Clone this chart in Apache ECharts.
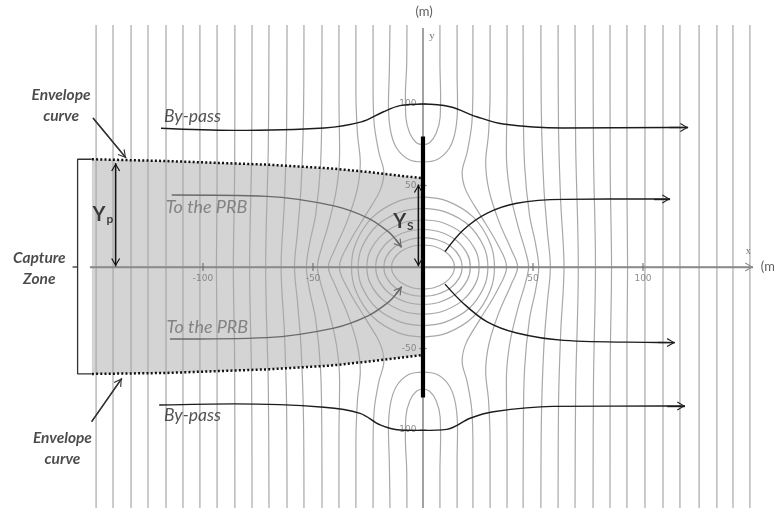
<!DOCTYPE html>
<html>
<head>
<meta charset="utf-8">
<script src="https://cdn.jsdelivr.net/npm/echarts@6/dist/echarts.min.js"></script>
<style>
  html, body { margin: 0; padding: 0; background: #fff; }
  #chart { width: 774px; height: 508px; }
</style>
</head>
<body>
<div id="chart"></div>
<script>
// ---- Flow net around a funnel-and-gate PRB (x, y in metres) ----

// Equipotential lines upstream of the barrier (x < 0), traced top to bottom
const equipotentialsUpstream = [
  [[-148.6, 148.5], [-148.6, -148]],
  [[-140.9, 148.5], [-140.9, -148]],
  [[-132.7, 148.5], [-132.7, -148]],
  [[-125, 148.5], [-125, -148]],
  [[-116.8, 148.5], [-116.8, -148]],
  [[-109.1, 148.5], [-109.1, -148]],
  [[-101.4, 148.5], [-101.4, -148]],
  [[-93.6, 148.5], [-93.6, 50], [-93.9, 0], [-93.6, -50], [-93.6, -148]],
  [[-85.5, 148.5], [-85.6, 60], [-86.2, 0], [-85.6, -60], [-85.5, -148]],
  [[-77.7, 148.5], [-77.9, 70], [-78.8, 0], [-77.9, -70], [-77.7, -148]],
  [[-70, 148.5], [-70.3, 75], [-71.5, 0], [-70.3, -75], [-70, -148]],
  [[-61.8, 148.5], [-62, 85], [-63, 40], [-64.5, 0], [-63, -40], [-62, -85], [-61.8, -148]],
  [[-54.1, 148.5], [-54.3, 95], [-55.4, 50], [-57, 22], [-58.4, 0], [-57, -22], [-55.4, -50], [-54.3, -95], [-54.1, -148]],
  [[-45.9, 148.5], [-46, 100], [-46.6, 62], [-48.8, 32], [-51.6, 14], [-53, 0], [-51.6, -14], [-48.8, -32], [-46.6, -62], [-46, -100], [-45.9, -148]],
  [[-38.2, 148.5], [-38.2, 105], [-37.9, 70], [-39.3, 48], [-43, 26], [-46.5, 10], [-48, 0], [-46.5, -10], [-43, -26], [-39.3, -48], [-37.9, -70], [-38.2, -105], [-38.2, -148]],
  [[-30.5, 148.5], [-30.5, 108], [-29.8, 82], [-28.5, 64], [-30, 47], [-34.5, 28], [-40, 11], [-43, 0], [-40, -11], [-34.5, -28], [-30, -47], [-28.5, -64], [-29.8, -82], [-30.5, -108], [-30.5, -148]],
  [[-22.7, 148.5], [-22.7, 112], [-22.2, 88], [-20, 70], [-17.8, 58], [-19.5, 47], [-26, 32], [-33.5, 15], [-38, 0], [-33.5, -15], [-26, -32], [-19.5, -47], [-17.8, -58], [-20, -70], [-22.2, -88], [-22.7, -112], [-22.7, -148]]
];

// Equipotential lines downstream of the barrier (x > 0)
const equipotentialsDownstream = [
  [[148.6, 148.5], [148.6, -148]],
  [[140.9, 148.5], [140.9, -148]],
  [[133.6, 148.5], [133.6, -148]],
  [[125.5, 148.5], [125.5, -148]],
  [[116.8, 148.5], [116.8, -148]],
  [[109.1, 148.5], [109.1, -148]],
  [[100.9, 148.5], [100.9, -148]],
  [[92.7, 148.5], [92.7, 50], [93, 0], [92.7, -50], [92.7, -148]],
  [[85, 148.5], [85.1, 60], [85.7, 0], [85.1, -60], [85, -148]],
  [[77.3, 148.5], [77.5, 70], [78.4, 0], [77.5, -70], [77.3, -148]],
  [[69.1, 148.5], [69.4, 75], [70.6, 0], [69.4, -75], [69.1, -148]],
  [[61.4, 148.5], [61.6, 85], [62.6, 40], [64.1, 0], [62.6, -40], [61.6, -85], [61.4, -148]],
  [[53.6, 148.5], [53.8, 95], [54.9, 50], [56.5, 22], [57.9, 0], [56.5, -22], [54.9, -50], [53.8, -95], [53.6, -148]],
  [[45.5, 148.5], [45.6, 100], [46.2, 62], [48.4, 32], [51.2, 14], [52.6, 0], [51.2, -14], [48.4, -32], [46.2, -62], [45.6, -100], [45.5, -148]],
  [[38.2, 148.5], [38.2, 105], [37.9, 70], [39.3, 48], [43, 26], [46.5, 10], [48, 0], [46.5, -10], [43, -26], [39.3, -48], [37.9, -70], [38.2, -105], [38.2, -148]],
  [[30.5, 148.5], [30.5, 108], [29.8, 82], [28.5, 64], [30, 47], [34.5, 28], [40, 11], [43, 0], [40, -11], [34.5, -28], [30, -47], [28.5, -64], [29.8, -82], [30.5, -108], [30.5, -148]],
  [[22.7, 148.5], [22.7, 112], [22.2, 88], [20, 70], [17.8, 58], [19.5, 47], [26, 32], [33.5, 15], [38, 0], [33.5, -15], [26, -32], [19.5, -47], [17.8, -58], [20, -70], [22.2, -88], [22.7, -112], [22.7, -148]]
];

// Equipotentials wrapping the two funnel tips (y = +80 and y = -80)
const tipLoops = [
  [[-7.3, 148.5], [-7.4, 125], [-8, 105], [-7.8, 92], [-6, 82], [-3, 76.2], [0, 75], [3, 76.2], [6, 82], [7.8, 92], [8, 105], [7.7, 125], [7.7, 148.5]],
  [[-15, 148.5], [-15.3, 120], [-15.7, 100], [-14.8, 84], [-12, 73], [-6.5, 66], [0, 64.5], [6.5, 66], [12, 73], [14.8, 84], [15.7, 100], [15.5, 120], [15.5, 148.5]],
  [[-7.3, -148], [-7.4, -125], [-8, -105], [-7.8, -92], [-6, -82], [-3, -76.2], [0, -75], [3, -76.2], [6, -82], [7.8, -92], [8, -105], [7.7, -125], [7.7, -148]],
  [[-15, -148], [-15.3, -120], [-15.7, -100], [-14.8, -84], [-12, -73], [-6.5, -66], [0, -64.5], [6.5, -66], [12, -73], [14.8, -84], [15.7, -100], [15.5, -120], [15.5, -148]]
];

// Near-gate equipotential arcs, upstream side
const gateArcsUpstream = [
  [[0, 13.5], [-4.9, 12.7], [-10.1, 9.5], [-13.4, 4.6], [-14.3, 0], [-13.4, -4.6], [-10.1, -9.5], [-4.9, -12.7], [0, -13.5]],
  [[0, 18], [-6.1, 16.9], [-12.6, 12.7], [-16.7, 6.2], [-17.8, 0], [-16.7, -6.2], [-12.6, -12.7], [-6.1, -16.9], [0, -18]],
  [[0, 23], [-7.4, 21.6], [-15.2, 16.3], [-20.2, 7.9], [-21.5, 0], [-20.2, -7.9], [-15.2, -16.3], [-7.4, -21.6], [0, -23]],
  [[0, 29], [-8.7, 27.3], [-18, 20.5], [-24, 9.9], [-25.5, 0], [-24, -9.9], [-18, -20.5], [-8.7, -27.3], [0, -29]],
  [[0, 36], [-10.1, 33.8], [-20.9, 25.5], [-27.7, 12.3], [-29.5, 0], [-27.7, -12.3], [-20.9, -25.5], [-10.1, -33.8], [0, -36]],
  [[0, 43], [-11.1, 40.4], [-23, 30.4], [-30.5, 14.7], [-32.5, 0], [-30.5, -14.7], [-23, -30.4], [-11.1, -40.4], [0, -43]]
];

// Near-gate equipotential arcs, downstream side
const gateArcsDownstream = [
  [[0, 13.5], [4.9, 12.7], [10.1, 9.5], [13.4, 4.6], [14.3, 0], [13.4, -4.6], [10.1, -9.5], [4.9, -12.7], [0, -13.5]],
  [[0, 18], [6.1, 16.9], [12.6, 12.7], [16.7, 6.2], [17.8, 0], [16.7, -6.2], [12.6, -12.7], [6.1, -16.9], [0, -18]],
  [[0, 23], [7.4, 21.6], [15.2, 16.3], [20.2, 7.9], [21.5, 0], [20.2, -7.9], [15.2, -16.3], [7.4, -21.6], [0, -23]],
  [[0, 29], [8.7, 27.3], [18, 20.5], [24, 9.9], [25.5, 0], [24, -9.9], [18, -20.5], [8.7, -27.3], [0, -29]],
  [[0, 36], [10.1, 33.8], [20.9, 25.5], [27.7, 12.3], [29.5, 0], [27.7, -12.3], [20.9, -25.5], [10.1, -33.8], [0, -36]],
  [[0, 43], [11.1, 40.4], [23, 30.4], [30.5, 14.7], [32.5, 0], [30.5, -14.7], [23, -30.4], [11.1, -40.4], [0, -43]]
];

// Streamlines (last point is the arrow tip)
const bypassTop = [[-119.1, 85.1], [-86.4, 83.8], [-45, 85.3], [-28, 89], [-18.2, 95.1], [-10.5, 99], [0, 100], [12.3, 98.3], [24.4, 92.2], [36.4, 87.7], [63.6, 85.3], [112, 85.6], [120.5, 85.6]];
const bypassBottom = [[-119.9, -84.7], [-86, -84], [-45, -86], [-28.6, -89.8], [-19.5, -96.9], [-10.5, -100], [0, -100.2], [10.8, -99.6], [21.4, -92.8], [32, -88.8], [59, -85.5], [111, -85.3], [119.1, -85.3]];
const toPrbTop = [[-114.2, 44.2], [-71, 43.3], [-40.5, 37.5], [-25, 30], [-15.8, 21.7], [-12.3, 16.7], [-9.7, 12.1]];
const toPrbBottom = [[-115, -44.2], [-71, -43.3], [-40.5, -37.5], [-25, -30], [-15.8, -21.7], [-12.3, -16.7], [-9.7, -12.1]];
const outflowTop = [[10, 9.4], [18.3, 22.7], [29, 32.9], [42.6, 39.1], [63.8, 41.5], [105, 41.7], [112.3, 41.7]];
const outflowBottom = [[10, -10.5], [18.5, -22.5], [29, -33.5], [42.6, -40.5], [64, -45], [107, -46.3], [114.5, -46.4]];

// Capture-zone envelope curves
const envelopeTop = [[-150.5, 66.1], [-116.5, 65], [-71, 62.8], [-42, 60.5], [-25, 58.3], [0, 54.4]];
const envelopeBottom = [[-150.5, -65.6], [-116.5, -65], [-71, -62.8], [-42, -60.5], [-25, -58], [0, -54]];

// Barrier, bracket and dimension arrows
const barrier = [[0, 80], [0, -80]];
const captureBracket = [[-150.6, 66.1], [-157, 66.1], [-157, -65.6], [-150.6, -65.6]];
const bracketTick = [[-157, 0], [-159.3, 0]];
const ypArrow = [[-139.7, 0.5], [-139.7, 63.6]];
const ysArrow = [[-2.1, 0.5], [-2.1, 50.5]];
const envelopePointerTop = [[-150, 91.4], [-135, 66.9]];
const envelopePointerBottom = [[-150.6, -94.9], [-136.9, -68.3]];

// Axes and tick labels
const xAxisSpan = [[-151.4, 0], [150, 0]];
const yAxisSpan = [[0, -148], [0, 146.6]];
const xTicks = [-100, -50, 50, 100];
const yTicks = [-100, -50, 50, 100];

// ---------------------------------------------------------------
const CHEV = 'path://M0,10 L5,0 L10,10 L8.8,10.7 L5,2.6 L1.2,10.7 Z';
const CONTOUR = { color: '#a8a8a8', width: 1.2 };

function contourSeries(pts) {
  return {
    type: 'line', data: pts, smooth: 0.35, showSymbol: false, silent: true, z: 2,
    lineStyle: CONTOUR
  };
}

// a line ending with an open arrow head at its last point
function arrowSeries(pts, color, width, z, bothEnds, smooth) {
  const n = pts.length;
  return {
    type: 'line', data: pts, smooth: smooth ? 0.35 : false, showSymbol: false, silent: true, z: z,
    lineStyle: { color: color, width: width },
    markLine: {
      silent: true, z: z, animation: false,
      symbol: [bothEnds ? CHEV : 'none', CHEV],
      symbolSize: [9, 8],
      symbolOffset: [[0, 4], [0, 4]],
      label: { show: false },
      emphasis: { disabled: true },
      lineStyle: { color: color, width: width, type: 'solid' },
      data: [[{ coord: pts[bothEnds ? 0 : n - 2] }, { coord: pts[n - 1] }]]
    }
  };
}

function plainSeries(pts, color, width, z, extra) {
  return Object.assign({
    type: 'line', data: pts, showSymbol: false, silent: true, z: z,
    lineStyle: { color: color, width: width }
  }, extra || {});
}

const series = [];

// shaded capture zone
[envelopeTop, envelopeBottom].forEach(function (env) {
  series.push({
    type: 'line', data: env, showSymbol: false, silent: true, z: 1,
    lineStyle: { width: 0 },
    areaStyle: { color: '#d4d4d4', opacity: 1 }
  });
});

// equipotentials
equipotentialsUpstream.concat(equipotentialsDownstream, tipLoops, gateArcsUpstream, gateArcsDownstream)
  .forEach(function (pts) { series.push(contourSeries(pts)); });

// coordinate axes
series.push(arrowSeries(xAxisSpan, '#8a8a8a', 1.4, 3, false, false));
series.push(arrowSeries(yAxisSpan, '#8a8a8a', 1.6, 3, false, false));

// ticks with their labels
series.push({
  type: 'scatter', silent: true, z: 4, symbol: 'rect', symbolSize: [1.3, 8],
  itemStyle: { color: '#666' },
  data: xTicks.map(function (v) { return [v, 0]; }),
  label: {
    show: true, position: 'bottom', distance: 3,
    formatter: function (p) { return String(p.value[0]); },
    fontFamily: 'DejaVu Sans', fontSize: 9, color: '#737373'
  }
});
series.push({
  type: 'scatter', silent: true, z: 4, symbol: 'rect', symbolSize: [7, 1.3],
  itemStyle: { color: '#666' },
  data: yTicks.map(function (v) { return [0, v]; }),
  label: {
    show: true, position: 'left', distance: 3,
    formatter: function (p) { return String(p.value[1]); },
    fontFamily: 'DejaVu Sans', fontSize: 9, color: '#737373'
  }
});

// barrier
series.push(plainSeries(barrier, '#000', 4.2, 5));

// envelope curves (dotted)
[envelopeTop, envelopeBottom].forEach(function (env) {
  series.push(plainSeries(env, '#111', 2.5, 6, { lineStyle: { color: '#111', width: 2.5, type: [2, 2.2] } }));
});

// streamlines
series.push(arrowSeries(bypassTop, '#1c1c1c', 1.4, 6, false, true));
series.push(arrowSeries(bypassBottom, '#1c1c1c', 1.4, 6, false, true));
series.push(arrowSeries(outflowTop, '#1c1c1c', 1.4, 6, false, true));
series.push(arrowSeries(outflowBottom, '#1c1c1c', 1.4, 6, false, true));
series.push(arrowSeries(toPrbTop, '#6a6a6a', 1.4, 6, false, true));
series.push(arrowSeries(toPrbBottom, '#6a6a6a', 1.4, 6, false, true));

// annotation marks
series.push(plainSeries(captureBracket, '#333', 1.3, 7));
series.push(plainSeries(bracketTick, '#333', 1.3, 7));
series.push(arrowSeries(ypArrow, '#111', 1.3, 7, true, false));
series.push(arrowSeries(ysArrow, '#111', 1.3, 7, true, false));
series.push(arrowSeries(envelopePointerTop, '#333', 1.3, 7, false, false));
series.push(arrowSeries(envelopePointerBottom, '#333', 1.3, 7, false, false));

// text annotations
const boldNote = { fontFamily: 'Lato', fontStyle: 'italic', fontWeight: 'bold', fontSize: 15.5, color: '#1e1e1e', lineHeight: 21, align: 'center' };
const darkNote = { fontFamily: 'Lato', fontStyle: 'italic', fontSize: 17.5, color: '#2a2a2a' };
const greyNote = { fontFamily: 'Lato', fontStyle: 'italic', fontSize: 18, color: '#6e6e6e' };
const subLabel = {
  rich: {
    y: { fontFamily: 'Lato', fontWeight: 'bold', fontSize: 20, color: '#111' },
    s: { fontFamily: 'Lato', fontWeight: 'bold', fontSize: 12, color: '#111', padding: [8, 0, 0, 1] }
  }
};
const notes = [
  { value: [-164.5, 99.1], text: 'Envelope\ncurve', style: boldNote },
  { value: [-163.9, -111.5], text: 'Envelope\ncurve', style: boldNote },
  { value: [-174.4, -1], text: 'Capture\nZone', style: boldNote },
  { value: [-104.8, 92.6], text: 'By-pass', style: darkNote },
  { value: [-104.8, -90.8], text: 'By-pass', style: darkNote },
  { value: [-98.4, 36.8], text: 'To the PRB', style: greyNote },
  { value: [-98, -37.1], text: 'To the PRB', style: greyNote },
  { value: [-145.5, 31.9], text: '{y|Y}{s|p}', style: subLabel },
  { value: [-8.9, 27.6], text: '{y|Y}{s|S}', style: subLabel },
  { value: [0.5, 156.4], text: '(m)', style: { fontFamily: 'Lato', fontSize: 13, color: '#333' } },
  { value: [4.1, 141.7], text: 'y', style: { fontFamily: 'Liberation Serif', fontSize: 11, color: '#555' } },
  { value: [147.9, 9.4], text: 'x', style: { fontFamily: 'Liberation Serif', fontSize: 10, color: '#555' } },
  { value: [157.5, 0], text: '(m)', style: { fontFamily: 'Lato', fontSize: 13, color: '#333' } }
];
series.push({
  type: 'scatter', silent: true, z: 8, symbolSize: 1,
  itemStyle: { color: 'rgba(0,0,0,0)' },
  data: notes.map(function (n) {
    return {
      value: n.value,
      label: Object.assign({ show: true, position: 'inside', formatter: n.text }, n.style)
    };
  })
});

const chart = echarts.init(document.getElementById('chart'), null, { renderer: 'canvas' });
chart.setOption({
  animation: false,
  backgroundColor: '#ffffff',
  grid: { left: 0, right: 0, top: 0, bottom: 0 },
  xAxis: { type: 'value', min: -192.27, max: 159.55, show: false },
  yAxis: { type: 'value', min: -147.85, max: 163.8, show: false },
  series: series
});
</script>
</body>
</html>
